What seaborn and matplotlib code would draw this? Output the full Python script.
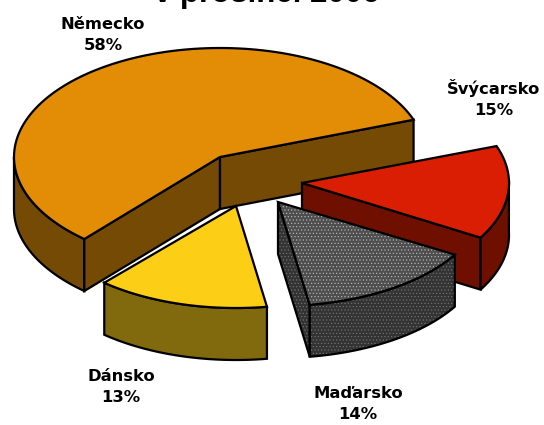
import numpy as np
import matplotlib
matplotlib.use("Agg")
import matplotlib.pyplot as plt
import seaborn as sns

# data
zeme = ["Německo", "Švýcarsko", "Maďarsko", "Dánsko"]
podil = [58, 15, 14, 13]
barvy = ["#E38C06", "#DA1E04", "#4E4E4E", "#FDCE16"]
barvy_bok = ["#744A04", "#6E0F00", "#333333", "#81690E"]
nadpis = "v prosinci 2006"

# geometry of the fake 3D pie, in pixels
DEPTH = 52
START = 228.8  # Německo starts here and the pie runs clockwise
stredy = [(220, 157), (302, 183), (278, 202), (236, 206)]
polomery = [(206, 109), (207, 108), (205, 104), (200, 102)]
popisky = [(103, 35), (494, 98), (358, 404), (121, 387)]


def warp(t):
    # the original has some perspective, front right slices look narrower
    t = np.asarray(t, dtype=float)
    s = ((t + 180) % 360) - 180
    d = np.where((s > -131.2) & (s < 20), 4 * np.sin(np.pi * (s + 131.2) / 151.2), 0)
    return t + d


def arc(center, radius, t0, t1):
    t = np.radians(warp(np.linspace(t0, t1, 120)))
    return np.column_stack([center[0] + radius[0] * np.cos(t), center[1] - radius[1] * np.sin(t)])


def draw_poly(ax, pts, color, dots=None):
    if dots:
        ax.fill(pts[:, 0], pts[:, 1], facecolor=color, edgecolor=dots, hatch=".....", lw=0)
        ax.fill(pts[:, 0], pts[:, 1], facecolor="none", edgecolor="black", lw=1.6)
    else:
        ax.fill(pts[:, 0], pts[:, 1], facecolor=color, edgecolor="black", lw=1.6)


def wall(ax, edge, color, dots=None):
    pts = np.vstack([edge, (edge + [0, DEPTH])[::-1]])
    draw_poly(ax, pts, color, dots)


sns.set_theme(style="white")
plt.rcParams["font.family"] = ["DejaVu Sans"]
plt.rcParams["hatch.linewidth"] = 0.5

fig, ax = plt.subplots(figsize=(5.44, 4.25), dpi=100)
ax.set_position([0, 0, 1, 1])
ax.set_xlim(0, 544)
ax.set_ylim(425, 0)
ax.axis("off")

# Německo
t0 = START
t1 = t0 - 360 * podil[0] / 100
c, r = stredy[0], polomery[0]
rim = arc(c, r, t0, t1)
wall(ax, arc(c, r, 180, t0), barvy_bok[0])
wall(ax, np.array([c, rim[0]]), barvy_bok[0])
wall(ax, np.array([c, rim[-1]]), barvy_bok[0])
draw_poly(ax, np.vstack([[c], rim]), barvy[0])

# Švýcarsko
t0 = t1
t1 = t0 - 360 * podil[1] / 100
c, r = stredy[1], polomery[1]
rim = arc(c, r, t0, t1)
wall(ax, np.array([c, rim[-1]]), barvy_bok[1])
wall(ax, arc(c, r, t1, 0), barvy_bok[1])
draw_poly(ax, np.vstack([[c], rim]), barvy[1])

# Maďarsko
t0 = t1
t1 = t0 - 360 * podil[2] / 100
c, r = stredy[2], polomery[2]
rim = arc(c, r, t0, t1)
wall(ax, np.array([c, rim[-1]]), barvy_bok[2], dots="#707070")
wall(ax, rim, barvy_bok[2], dots="#707070")
draw_poly(ax, np.vstack([[c], rim]), barvy[2], dots="#B0B0B0")

# Dánsko
t0 = t1
t1 = t0 - 360 * podil[3] / 100
c, r = stredy[3], polomery[3]
rim = arc(c, r, t0, t1)
wall(ax, rim, barvy_bok[3])
draw_poly(ax, np.vstack([[c], rim]), barvy[3])

for jmeno, p, (x, y) in zip(zeme, podil, popisky):
    ax.text(x, y, f"{jmeno}\n{p}%", ha="center", va="center", fontsize=11.8,
            fontweight="bold", color="black", linespacing=1.5)

ax.text(267, 2, nadpis, ha="center", va="baseline", fontsize=22.5, fontweight="bold",
        family="Liberation Sans", color="black", clip_on=False)

fig.savefig("out.png", dpi=100)
